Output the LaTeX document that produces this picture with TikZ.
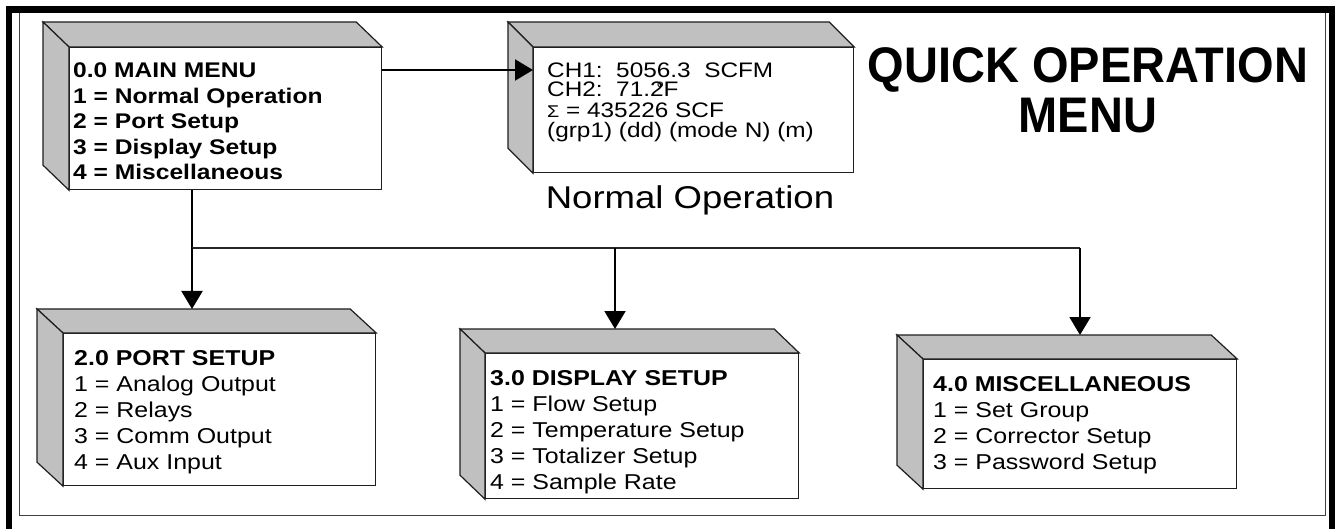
\documentclass[tikz,border=0pt]{standalone}
\usepackage{fontspec}
\setmainfont{Liberation Sans}[FakeStretch=1.16]
\newfontfamily\titlefont{Liberation Sans}[FakeStretch=0.94]
\usetikzlibrary{arrows.meta,calc}
\definecolor{sidegray}{RGB}{192,192,192}
\definecolor{edgecol}{RGB}{30,30,30}
\tikzset{
  face/.style={draw=edgecol, line width=1.2pt, fill=white, inner sep=0pt, rectangle, anchor=north west},
  sideface/.style={draw=edgecol, line width=1.2pt, fill=sidegray, line join=miter},
  linetext/.style={anchor=base west, inner sep=0pt, font=\fontsize{21.5}{25.5}\selectfont},
  conn/.style={line width=2pt, black},
  arr/.style={conn, -{Triangle[width=21pt,length=18pt]}},
}
\newcommand\boxsides[3]{%
  \draw[sideface] (#1.north west) -- ++(-#2,-#3) -- ($(#1.north east)+(-#2,-#3)$) -- (#1.north east) -- cycle;
  \draw[sideface] (#1.north west) -- ++(-#2,-#3) -- ($(#1.south west)+(-#2,-#3)$) -- (#1.south west) -- cycle;}
\begin{document}
\begin{tikzpicture}[x=1pt,y=-1pt]
\useasboundingbox (0,0) rectangle (1341,529);
\fill[white] (0,0) rectangle (1341,529);
% frame
\fill[black] (6,6) rectangle (1335,13);
\fill[black] (6,6) rectangle (12,529);
\fill[black] (1329,6) rectangle (1335,529);
\draw[line width=1.5pt, black!75] (19.5,13) -- (19.5,515.5) -- (1325.5,515.5) -- (1325.5,13);

% boxes (front faces)
\node[face, minimum width=312pt, minimum height=142pt] (main) at (69,47) {};
\node[face, minimum width=320pt, minimum height=125pt] (normal) at (533,47) {};
\node[face, minimum width=312pt, minimum height=152pt] (port) at (63,333) {};
\node[face, minimum width=313pt, minimum height=145pt] (disp) at (485,353) {};
\node[face, minimum width=313pt, minimum height=129pt] (misc) at (923,359) {};
\boxsides{main}{26}{25}
\boxsides{normal}{25}{25}
\boxsides{port}{26}{24}
\boxsides{disp}{25}{24}
\boxsides{misc}{26}{24}
\coordinate (portB) at ($(port.north west)+(-26,-24)$);
\coordinate (dispB) at ($(disp.north west)+(-25,-24)$);
\coordinate (miscB) at ($(misc.north west)+(-26,-24)$);

% texts
\foreach \t [count=\i from 0] in {0.0 MAIN MENU, 1 = Normal Operation, 2 = Port Setup, 3 = Display Setup, 4 = Miscellaneous}
  \node[linetext, font=\bfseries\fontsize{21.2}{25.5}\selectfont] (mainline\i) at ($(main.north west)+(4,31+\i*25.5)$) {\t};

\node[linetext, font=\fontsize{21}{21}\selectfont] (nl0) at ($(normal.north west)+(14,31)$) {CH1:\ \ 5056.3\ \ SCFM};
\node[linetext, font=\fontsize{21}{21}\selectfont] (nl1) at ($(normal.north west)+(14,50)$) {CH2:\ \ 71.2\llap{\raisebox{9.5pt}{\fontsize{10}{10}\selectfont o}}F};
\node[linetext, font=\fontsize{21}{21}\selectfont] (nl2) at ($(normal.north west)+(14,70.5)$) {{\fontsize{17}{17}\selectfont Σ} = 435226 SCF};
\node[linetext, font=\fontsize{21}{21}\selectfont] (nl3) at ($(normal.north west)+(14,90.5)$) {(grp1) (dd) (mode N) (m)};

\foreach \t [count=\i from 0] in {\textbf{2.0 PORT SETUP}, 1 = Analog Output, 2 = Relays, 3 = Comm Output, 4 = Aux Input}
  \node[linetext] (portline\i) at ($(port.north west)+(11,32+\i*26)$) {\t};
\foreach \t [count=\i from 0] in {\textbf{3.0 DISPLAY SETUP}, 1 = Flow Setup, 2 = Temperature Setup, 3 = Totalizer Setup, 4 = Sample Rate}
  \node[linetext] (displine\i) at ($(disp.north west)+(5,32+\i*26)$) {\t};
\foreach \t [count=\i from 0] in {\textbf{4.0 MISCELLANEOUS}, 1 = Set Group, 2 = Corrector Setup, 3 = Password Setup}
  \node[linetext] (miscline\i) at ($(misc.north west)+(10,32+\i*26)$) {\t};

\node[anchor=base, inner sep=0pt, font=\fontsize{31.5}{32}\selectfont] (caption) at (690,208.5) {Normal Operation};
\node[align=center, inner sep=0pt, font=\titlefont\bfseries\fontsize{50}{50}\selectfont] (title) at (1088,90) {QUICK OPERATION\\MENU};

% connectors
\coordinate (split) at (192,248);
\coordinate (jd) at (615,248);
\coordinate (jm) at (1080,248);
\draw[conn] (main.south -| split) -- (split);
\draw[line width=1.6pt, black!85] (split) -- (jm);
\draw[arr] (split) -- (split |- portB);
\draw[arr] (jd) -- (jd |- dispB);
\draw[arr] (jm) -- (jm |- miscB);
\draw[arr] ($(main.north east)+(0,23)$) -- ($(normal.north west)+(0,23)$);
\end{tikzpicture}
\end{document}
